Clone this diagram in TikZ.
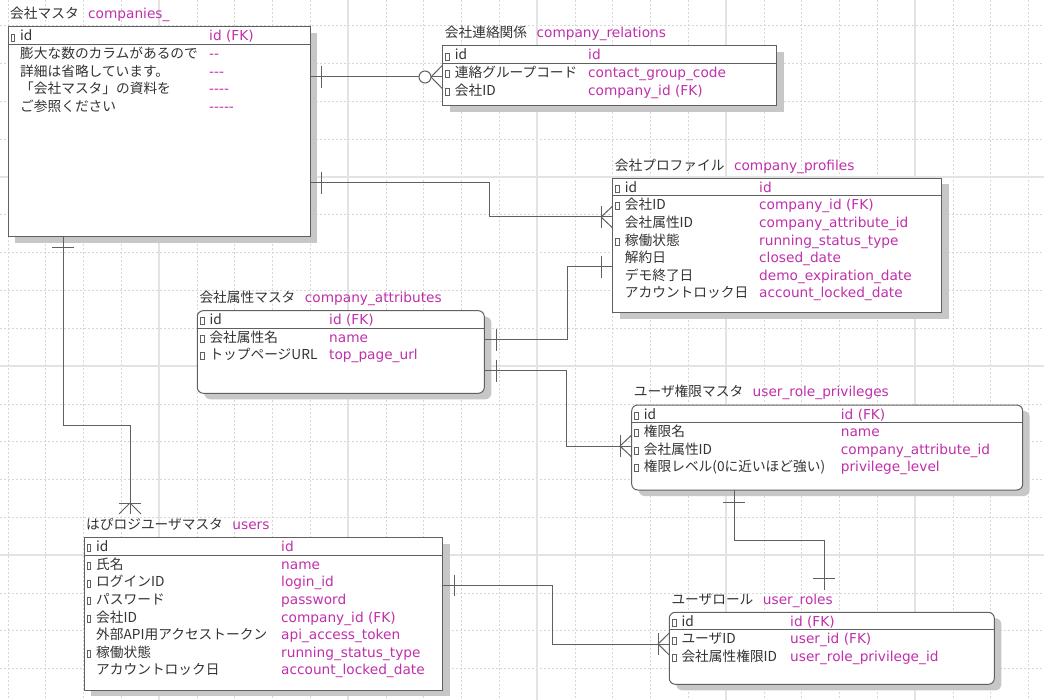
\documentclass[tikz,border=0pt]{standalone}
\usepackage{fontspec}
\setmainfont{DejaVu Sans}
\newfontfamily\jp{Noto Sans CJK JP}
\usetikzlibrary{shadows}

\definecolor{mag}{RGB}{192,48,170}
\definecolor{txt}{RGB}{51,51,51}
\definecolor{edge}{RGB}{96,96,96}
\newcommand\erfont{\fontsize{13.7}{16}\selectfont}

\tikzset{
  tbl/.style={draw=edge, line width=1pt, fill=white, anchor=north west,
    inner sep=0, outer sep=0,
    drop shadow={shadow xshift=7pt, shadow yshift=-6pt, fill=black!22, opacity=1}},
  round/.style={rounded corners=6pt},
  tbl line/.style={draw=edge, line width=1pt},
  ttl/.style={anchor=base west, inner sep=0, text=txt},
  fname/.style={anchor=base west, inner sep=0, text=txt, font=\jp\erfont},
  fcol/.style={anchor=base west, inner sep=0, text=mag},
  keymark/.style={draw=edge, line width=0.6pt, minimum width=3.5pt,
    minimum height=7pt, inner sep=0},
  minor/.style={draw=black!16, line width=0.6pt, dash pattern=on 2pt off 2pt},
  major/.style={draw=black!11, line width=1.2pt},
  conn/.style={draw=edge, line width=1pt}
}

% #1 name, #2 corner, #3 width, #4 height, #5 jp title, #6 table name, #7 extra style
\newcommand\ertable[7]{%
  \node (#1) [tbl, #7, minimum width=#3, minimum height=#4] at (#2) {};
  \node (#1-t) [ttl] at ([xshift=2pt,yshift=8.2pt]#1.north west)
    {{\jp #5}\hspace{9.5pt}\textcolor{mag}{#6}};
  \draw [tbl line] ([yshift=-17.5pt]#1.north west) -- ([yshift=-17.5pt]#1.north east);}

% #1 table, #2 offset of second column, #3 rows name/column/key
\newcommand\erfields[3]{%
  \foreach \fn/\fc/\fk [count=\k from 0] in {#3}{
    \node (#1-a\k) [fname] at ([xshift=12pt,yshift=-14pt-17.6pt*\k]#1.north west) {\fn};
    \node (#1-b\k) [fcol] at ([xshift=#2,yshift=-14pt-17.6pt*\k]#1.north west) {\fc};
    \ifnum\fk=1
      \node (#1-m\k) [keymark] at ([xshift=4.8pt,yshift=-10.4pt-17.6pt*\k]#1.north west) {};
    \fi
  }}

\begin{document}
\begin{tikzpicture}[x=1pt, y=-1pt, font=\erfont]
    \fill [white] (0,0) rectangle (1044,700);
    \useasboundingbox (0,0) rectangle (1044,700);
    %
    \foreach \i in {0,...,27} \draw [minor] (7.8+37.8*\i,0) -- (7.8+37.8*\i,700);
    \foreach \j in {0,...,17} \draw [minor] (0,25.8+37.8*\j) -- (1044,25.8+37.8*\j);
    \foreach \i in {159,348,537,726,915} \draw [major] (\i,0) -- (\i,700);
    \foreach \j in {177,366,555} \draw [major] (0,\j) -- (1044,\j);
    %
    \ertable{companies}{8,27}{302pt}{210pt}{会社マスタ}{companies\_}{}
    \erfields{companies}{201pt}{id/id (FK)/1, 膨大な数のカラムがあるので/{-}{-}/0,
      詳細は省略しています。/{-}{-}{-}/0, 「会社マスタ」の資料を/{-}{-}{-}{-}/0,
      ご参照ください/{-}{-}{-}{-}{-}/0}
    \ertable{relations}{442.7,46}{334pt}{60pt}{会社連絡関係}{company\_relations}{}
    \erfields{relations}{145.3pt}{id/id/1, 連絡グループコード/contact\_group\_code/1,
      会社ID/company\_id (FK)/1}
    \ertable{profiles}{612.7,178.3}{329pt}{134.5pt}{会社プロファイル}{company\_profiles}{}
    \erfields{profiles}{146.3pt}{id/id/1, 会社ID/company\_id (FK)/1,
      会社属性ID/company\_attribute\_id/0, 稼働状態/running\_status\_type/1,
      解約日/closed\_date/0, デモ終了日/demo\_expiration\_date/0,
      アカウントロック日/account\_locked\_date/0}
    \ertable{attributes}{197.3,310.7}{287pt}{82.6pt}{会社属性マスタ}{company\_attributes}{round}
    \erfields{attributes}{131.7pt}{id/id (FK)/1, 会社属性名/name/1,
      トップページURL/top\_page\_url/1}
    \ertable{privileges}{631.7,405}{391pt}{85pt}{ユーザ権限マスタ}{user\_role\_privileges}{round}
    \erfields{privileges}{209pt}{id/id (FK)/1, 権限名/name/1,
      会社属性ID/company\_attribute\_id/1, 権限レベル(0に近いほど強い)/privilege\_level/1}
    \ertable{users}{84,537.7}{358.7pt}{152.3pt}{はぴロジユーザマスタ}{users}{}
    \erfields{users}{197pt}{id/id/1, 氏名/name/1, ログインID/login\_id/1,
      パスワード/password/1, 会社ID/company\_id (FK)/1,
      外部API用アクセストークン/api\_access\_token/0,
      稼働状態/running\_status\_type/1, アカウントロック日/account\_locked\_date/0}
    \ertable{roles}{669.3,612.3}{325pt}{72pt}{ユーザロール}{user\_roles}{round}
    \erfields{roles}{120.7pt}{id/id (FK)/1, ユーザID/user\_id (FK)/1,
      会社属性権限ID/user\_role\_privilege\_id/1}
    %
    \coordinate (usersEnd) at (130,514);
    \coordinate (rolesEnd) at (824,590);
    %
    \draw [conn] (companies.east |- 0,77) -- (relations.west |- 0,77);
    \draw [conn] (321,66) -- (321,88);
    \draw [conn, fill=white] (425,77) circle (6pt);
    \draw [conn] (431,77) -- (relations.west |- 0,65) (431,77) -- (relations.west |- 0,89);
    %
    \draw [conn] (companies.east |- 0,183) -| (489,217) -- (profiles.west |- 0,217);
    \draw [conn] (321,172) -- (321,194);
    \draw [conn] (601,206) -- (601,228);
    \draw [conn] (601,217) -- (profiles.west |- 0,206) (601,217) -- (profiles.west |- 0,228);
    %
    \draw [conn] (attributes.east |- 0,340) -| (567,267) -- (profiles.west |- 0,267);
    \draw [conn] (496,329) -- (496,351);
    \draw [conn] (601,256) -- (601,278);
    %
    \draw [conn] (attributes.east |- 0,370.5) -| (566,446) -- (privileges.west |- 0,446);
    \draw [conn] (496,360) -- (496,382);
    \draw [conn] (620,435) -- (620,457);
    \draw [conn] (620,446) -- (privileges.west |- 0,435) (620,446) -- (privileges.west |- 0,457);
    %
    \draw [conn] (privileges.south -| 734,0) -- (734,540) -| (rolesEnd);
    \draw [conn] (723,502) -- (745,502);
    \draw [conn] (813,578) -- (835,578);
    %
    \draw [conn] (users.east |- 0,585.7) -| (552.7,644) -- (roles.west |- 0,644);
    \draw [conn] (454,575) -- (454,596);
    \draw [conn] (658,633) -- (658,655);
    \draw [conn] (658,644) -- (roles.west |- 0,633) (658,644) -- (roles.west |- 0,655);
    %
    \draw [conn] (companies.south -| 63,0) -- (63,425) -| (usersEnd);
    \draw [conn] (52,248) -- (74,248);
    \draw [conn] (119,503) -- (141,503);
    \draw [conn] (130,503) -- (119,514) (130,503) -- (141,514);
\end{tikzpicture}
\end{document}
